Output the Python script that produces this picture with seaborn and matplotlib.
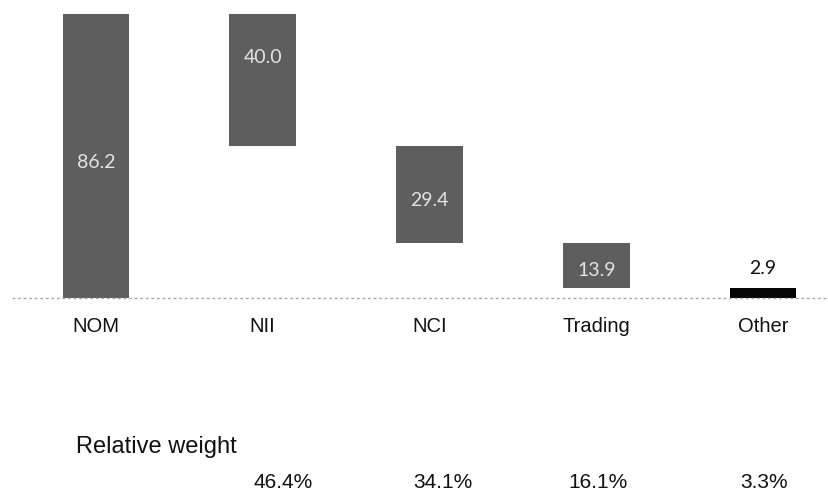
import numpy as np
import pandas as pd
import matplotlib
matplotlib.use("Agg")
import matplotlib.pyplot as plt
import seaborn as sns

# Revenue bridge components
categories = ["NOM", "NII", "NCI", "Trading", "Other"]
values = [86.2, 40.0, 29.4, 13.9, 2.9]
weights = ["46.4%", "34.1%", "16.1%", "3.3%"]

# NOM is the total; the four components walk it down to zero
tops = [values[0]]
bases = [0.0]
running = values[0]
for v in values[1:]:
    tops.append(running)
    running -= v
    bases.append(running)
heights = [t - b for t, b in zip(tops, bases)]

df = pd.DataFrame({"category": categories, "height": heights, "base": bases})

sns.set_theme(style="white")
plt.rcParams["font.family"] = ["Liberation Sans", "DejaVu Sans"]

W, H = 829, 493
fig = plt.figure(figsize=(W / 100, H / 100), dpi=100)

# axes spanning the full width; y from 0 up to 90
px_per_unit = 284 / 86.2
ax_bottom = 1 - 298 / H
ax_height = 90 * px_per_unit / H
ax = fig.add_axes([0, ax_bottom, 1, ax_height])

sns.barplot(data=df, x="category", y="height", color="#5e5e5e",
            width=0.40, bottom=df["base"].to_numpy(), ax=ax,
            saturation=1, linewidth=0)
# the residual "Other" bar is drawn in black
ax.patches[-1].set_facecolor("#050505")

step = 166.75
ax.set_xlim((0 - 96) / step, (W - 96) / step)
ax.set_ylim(0, 90)
for s in ax.spines.values():
    s.set_visible(False)
ax.set_yticks([])
ax.set_xlabel("")
ax.set_ylabel("")
ax.tick_params(axis="x", length=0, pad=14, labelsize=14.5, labelcolor="#111111")

# dotted baseline
ax.axhline(0, xmin=12 / W, xmax=1, color="#a8a8a8", linestyle=(0, (2, 2)),
           linewidth=1.0, zorder=5, clip_on=False)

# value labels inside the floating bars, the last one above its bar
label_frac = [0.476, 0.67, 0.44, 0.40]
for i, (v, b, h) in enumerate(zip(values, bases, heights)):
    if i < len(label_frac):
        ax.text(i, b + h * label_frac[i], f"{v:.1f}", ha="center", va="center",
                color="#e4e4e4", fontsize=14, family=["Lato", "DejaVu Sans"])
    else:
        ax.text(i, b + h + 6.2, f"{v:.1f}", ha="center", va="center",
                color="#111111", fontsize=14, family=["Lato", "DejaVu Sans"])

# relative weight row
fig.text(76 / W, 1 - 447 / H, "Relative weight", ha="left", va="center",
         fontsize=17, color="#111111")
weight_x = [283, 443, 598, 764]
for x, w in zip(weight_x, weights):
    fig.text(x / W, 1 - 483 / H, w, ha="center", va="center",
             fontsize=15, color="#111111")

fig.savefig("out.png", dpi=100, facecolor="white")
